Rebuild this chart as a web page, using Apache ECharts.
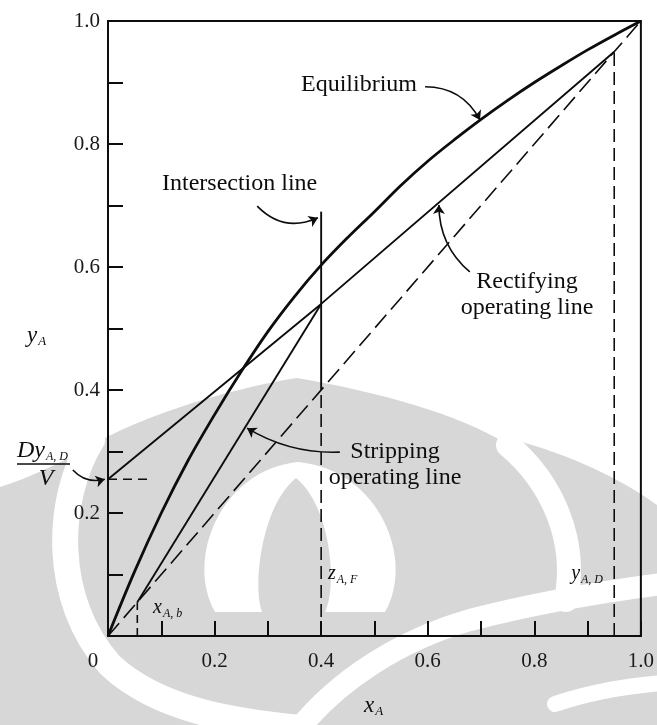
<!DOCTYPE html>
<html>
<head>
<meta charset="utf-8">
<script src="https://cdn.jsdelivr.net/npm/echarts@6/dist/echarts.min.js"></script>
<style>
html, body { margin: 0; padding: 0; background: #fff; }
#chart { width: 657px; height: 725px; }
</style>
</head>
<body>
<div id="chart"></div>
<script>
// McCabe-Thiele construction: equilibrium curve, operating lines, q-line
const eqX = [0, 0.05, 0.1, 0.15, 0.2, 0.25, 0.3, 0.35, 0.4, 0.45, 0.5, 0.55, 0.6, 0.65, 0.7, 0.75, 0.8, 0.85, 0.9, 0.95, 1.0];
const eqY = [0, 0.105, 0.2, 0.285, 0.36, 0.43, 0.495, 0.552, 0.603, 0.648, 0.69, 0.733, 0.772, 0.807, 0.84, 0.871, 0.9, 0.927, 0.953, 0.977, 1.0];

const rectX = [0, 0.4, 0.95];
const rectY = [0.255, 0.54, 0.95];

const stripX = [0.055, 0.4];
const stripY = [0.055, 0.54];

const diagX = [0, 1];
const diagY = [0, 1];

const zF = 0.4;        // feed composition
const qTop = 0.69;     // upper end of the intersection line
const xD = 0.95;       // distillate composition
const xB = 0.055;      // bottoms composition
const DyV = 0.255;     // rectifying-line intercept

const tickStep = 0.1;
const labelStep = 0.2;

const INK = '#0d0d0d';
const SERIF = '"Liberation Serif", "Times New Roman", serif';
const MARK = '#d7d7d7';

function pairs(xs, ys) { return xs.map((x, i) => [x, ys[i]]); }

const chart = echarts.init(document.getElementById('chart'), null, { renderer: 'canvas' });

function tickLabel(v, isX) {
  const t = Math.round(v / tickStep);
  if (t % Math.round(labelStep / tickStep) !== 0) return '';
  if (t === 0) return isX ? '{z|0}' : '';
  return v.toFixed(1);
}

const lineBase = { type: 'line', symbol: 'none', silent: true, animation: false };

// curved pointer arrows (start and end in axis units)
const arrows = [
  { coords: [[0.595, 0.893], [0.698, 0.839]], curveness: 0.3 },
  { coords: [[0.280, 0.699], [0.394, 0.680]], curveness: -0.35 },
  { coords: [[0.679, 0.592], [0.621, 0.701]], curveness: 0.23 },
  { coords: [[0.435, 0.299], [0.261, 0.338]], curveness: 0.15 },
  { coords: [[-0.066, 0.270], [-0.006, DyV]], curveness: -0.3 }
];

// faint emblem shapes painted behind the plot (canvas pixels)
const emblem = [
  { d: 'M0 487 C30 478 58 463 82 452 C120 425 210 392 297 378 C380 392 460 415 505 443 L515 440 C570 455 620 478 657 505 L657 725 L0 725 Z', fill: MARK },
  { d: 'M92 440 C55 500 52 600 110 665 C160 712 240 722 300 728', stroke: '#fff', w: 26 },
  { d: 'M508 445 C552 482 578 540 566 600', stroke: '#fff', w: 24 },
  { d: 'M298 730 C338 680 400 640 470 620 C540 602 600 592 662 584', stroke: '#fff', w: 22 },
  { d: 'M555 704 C590 692 625 686 662 683', stroke: '#fff', w: 16 },
  { d: 'M298 462 C220 470 185 560 215 612 L385 612 C415 560 380 470 298 462 Z', fill: '#fff' },
  { d: 'M296 478 C330 505 338 585 325 612 L262 612 C252 585 262 505 296 478 Z', fill: MARK }
];

const sub = { fontFamily: SERIF, fontStyle: 'italic', fontSize: 12, color: INK, padding: [11, 0, 0, 1] };
const ital = (s) => ({ fontFamily: SERIF, fontStyle: 'italic', fontSize: s, color: INK });

function label(x, y, text, opts) {
  return {
    type: 'text', x: x, y: y, z: 50, silent: true,
    style: Object.assign({
      text: text, fill: INK, font: '24px ' + SERIF,
      textAlign: 'left', textVerticalAlign: 'middle'
    }, opts || {})
  };
}

const option = {
  backgroundColor: '#fff',
  animation: false,
  grid: { left: 108, right: 16, top: 21, bottom: 89, show: true, borderColor: INK, borderWidth: 2, backgroundColor: 'transparent' },
  xAxis: {
    type: 'value', min: 0, max: 1, interval: tickStep,
    axisLine: { lineStyle: { color: INK, width: 2 } },
    axisTick: { inside: true, length: 15, lineStyle: { color: INK, width: 2 } },
    splitLine: { show: false },
    axisLabel: {
      formatter: (v) => tickLabel(v, true), showMinLabel: true, showMaxLabel: true,
      fontFamily: SERIF, fontSize: 21, color: '#1a1a1a', margin: 15,
      rich: { z: { fontFamily: SERIF, fontSize: 21, color: '#1a1a1a', padding: [0, 30, 0, 0] } }
    }
  },
  yAxis: {
    type: 'value', min: 0, max: 1, interval: tickStep,
    axisLine: { lineStyle: { color: INK, width: 2 } },
    axisTick: { inside: true, length: 15, lineStyle: { color: INK, width: 2 } },
    splitLine: { show: false },
    axisLabel: {
      formatter: (v) => tickLabel(v, false), showMinLabel: true, showMaxLabel: true,
      fontFamily: SERIF, fontSize: 21, color: '#1a1a1a', margin: 8
    }
  },
  series: [
    {
      type: 'custom', coordinateSystem: 'none', silent: true, animation: false, z: -5,
      data: [0],
      renderItem: function () {
        return {
          type: 'group',
          children: emblem.map(p => ({
            type: 'path',
            shape: { pathData: p.d },
            style: p.fill ? { fill: p.fill, stroke: null } : { fill: null, stroke: p.stroke, lineWidth: p.w, lineCap: 'round' }
          }))
        };
      }
    },
    Object.assign({}, lineBase, { name: 'Equilibrium', smooth: 0.35, data: pairs(eqX, eqY), lineStyle: { color: INK, width: 2.8 }, z: 5 }),
    Object.assign({}, lineBase, { name: 'Rectifying operating line', data: pairs(rectX, rectY), lineStyle: { color: INK, width: 1.9 } }),
    Object.assign({}, lineBase, { name: 'Stripping operating line', data: pairs(stripX, stripY), lineStyle: { color: INK, width: 1.9 } }),
    Object.assign({}, lineBase, { name: 'Diagonal', data: pairs(diagX, diagY), lineStyle: { color: INK, width: 1.6, type: [17, 7] } }),
    Object.assign({}, lineBase, { name: 'Intersection line', data: [[zF, zF], [zF, qTop]], lineStyle: { color: INK, width: 1.9 } }),
    Object.assign({}, lineBase, { name: 'zF marker', data: [[zF, 0], [zF, zF]], lineStyle: { color: INK, width: 1.6, type: [13, 6] } }),
    Object.assign({}, lineBase, { name: 'xD marker', data: [[xD, 0], [xD, xD]], lineStyle: { color: INK, width: 1.6, type: [13, 6] } }),
    Object.assign({}, lineBase, { name: 'xB marker', data: [[xB, 0], [xB, xB]], lineStyle: { color: INK, width: 1.6, type: [8, 5] } }),
    Object.assign({}, lineBase, { name: 'Intercept marker', data: [[0, DyV], [0.075, DyV]], lineStyle: { color: INK, width: 1.6, type: [9, 6] } }),
    {
      type: 'lines', coordinateSystem: 'cartesian2d', clip: false, silent: true, animation: false,
      symbol: ['none', 'arrow'], symbolSize: 9,
      lineStyle: { color: INK, width: 1.6, opacity: 1 },
      data: arrows.map(a => ({ coords: a.coords, lineStyle: { curveness: a.curveness } }))
    }
  ],
  graphic: [
    label(301, 85, 'Equilibrium'),
    label(162, 184, 'Intersection line'),
    label(527, 295, 'Rectifying\noperating line', { textAlign: 'center', lineHeight: 26 }),
    label(395, 465, 'Stripping\noperating line', { textAlign: 'center', lineHeight: 26 }),
    label(328, 574, '{m|z}{s|A, F}', { rich: { m: ital(20), s: sub } }),
    label(603, 574, '{m|y}{s|A, D}', { textAlign: 'right', rich: { m: ital(20), s: sub } }),
    label(153, 608, '{m|x}{s|A, b}', { rich: { m: ital(20), s: sub } }),
    label(27, 336, '{m|y}{s|A}', { rich: { m: ital(23), s: Object.assign({}, sub, { fontSize: 13 }) } }),
    label(364, 706, '{m|x}{s|A}', { rich: { m: ital(23), s: Object.assign({}, sub, { fontSize: 13 }) } }),
    label(17, 451, '{m|Dy}{s|A, D}', { rich: { m: ital(24), s: sub } }),
    label(46, 479, 'V', { textAlign: 'center', font: 'italic 24px ' + SERIF }),
    { type: 'line', z: 50, silent: true, shape: { x1: 17, y1: 464, x2: 70, y2: 464 }, style: { stroke: INK, lineWidth: 1.3 } }
  ]
};

chart.setOption(option);
</script>
</body>
</html>
